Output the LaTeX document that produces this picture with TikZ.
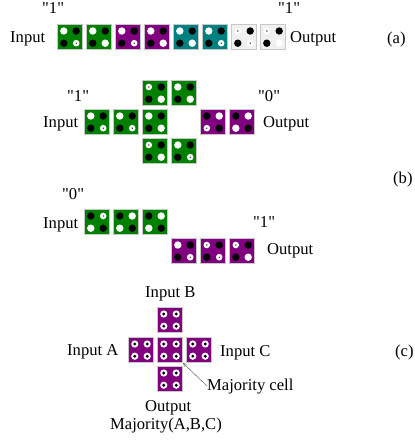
\documentclass[tikz,border=0pt]{standalone}
\usepackage{fontspec}
\newfontfamily\qfont{Liberation Serif}
\usetikzlibrary{arrows.meta}
\definecolor{qgreen}{RGB}{0,128,0}
\definecolor{qpurple}{RGB}{128,0,128}
\definecolor{qteal}{RGB}{0,128,128}
\definecolor{qgrey}{RGB}{240,240,240}
\definecolor{qedge}{RGB}{200,200,200}
\newcommand\dotB[1]{\fill[black] #1 circle[radius=3.7];}
\newcommand\dotW[1]{\fill[white] #1 circle[radius=3.7];}
\newcommand\dotw[1]{\fill[white] #1 circle[radius=3.3]; \fill[black] #1 circle[radius=0.7];}
\newcommand\dotu[1]{\fill[white] #1 circle[radius=3.6]; \fill[black] #1 circle[radius=1.6];}
% name, x, y (top-left), colour, TL, TR, BL, BR
\newcommand\qcell[8]{%
  \node[qcabox, fill=#4] (#1) at (#2+13,#3+13) {};
  \csname dot#5\endcsname{(#2+6.8,#3+7)}
  \csname dot#6\endcsname{(#2+19.2,#3+7)}
  \csname dot#7\endcsname{(#2+6.8,#3+19.2)}
  \csname dot#8\endcsname{(#2+19.2,#3+19.2)}
}
\begin{document}
\begin{tikzpicture}[x=1pt,y=-1pt,
  qcabox/.style={draw=qedge, line width=0.7pt, minimum size=25.5pt, inner sep=0pt},
  lbl/.style={anchor=base west, inner sep=0pt, font=\qfont\fontsize{16.6}{18}\selectfont}]
\useasboundingbox[fill=white] (0,0) rectangle (414,443);

% ---------- (a) ----------
\node[lbl] (a1q) at (42,14) {"1"};
\node[lbl] (ain) at (10,43) {Input};
\node[lbl] (a2q) at (278,14) {"1"};
\node[lbl] (aout) at (290,43) {Output};
\node[lbl] (alab) at (387,44) {(a)};
\qcell{a1}{57}{24}{qgreen}{W}{B}{B}{w}
\qcell{a2}{86}{24}{qgreen}{W}{B}{B}{W}
\qcell{a3}{115}{24}{qpurple}{W}{B}{B}{w}
\qcell{a4}{144}{24}{qpurple}{W}{B}{B}{W}
\qcell{a5}{173}{24}{qteal}{W}{B}{B}{W}
\qcell{a6}{202}{24}{qteal}{W}{B}{B}{w}
\qcell{a7}{231}{24}{qgrey}{w}{B}{B}{w}
\qcell{a8}{260}{24}{qgrey}{w}{B}{B}{W}

% ---------- (b) upper ----------
\node[lbl] (b1q) at (67,102) {"1"};
\node[lbl] (bin) at (43,128) {Input};
\node[lbl] (b0q) at (258,102) {"0"};
\node[lbl] (bout) at (263,128) {Output};
\node[lbl] (blab) at (393,184) {(b)};
\qcell{b1}{142}{80}{qgreen}{w}{B}{B}{W}
\qcell{b2}{171}{80}{qgreen}{W}{B}{B}{W}
\qcell{b3}{84}{109}{qgreen}{W}{B}{B}{w}
\qcell{b4}{113}{109}{qgreen}{W}{B}{B}{w}
\qcell{b5}{142}{109}{qgreen}{W}{B}{B}{W}
\qcell{b6}{200}{109}{qpurple}{B}{W}{w}{B}
\qcell{b7}{229}{109}{qpurple}{B}{W}{W}{B}
\qcell{b8}{142}{138}{qgreen}{w}{B}{B}{W}
\qcell{b9}{171}{138}{qgreen}{W}{B}{B}{w}

% ---------- (b) lower ----------
\node[lbl] (c0q) at (62,200) {"0"};
\node[lbl] (cin) at (43,228) {Input};
\node[lbl] (c1q) at (253,227) {"1"};
\node[lbl] (cout) at (267,254) {Output};
\qcell{c1}{84}{209}{qgreen}{B}{w}{W}{B}
\qcell{c2}{113}{209}{qgreen}{B}{W}{W}{B}
\qcell{c3}{142}{209}{qgreen}{B}{W}{W}{B}
\qcell{c4}{171}{238}{qpurple}{W}{B}{B}{w}
\qcell{c5}{200}{238}{qpurple}{w}{B}{B}{w}
\qcell{c6}{229}{238}{qpurple}{w}{B}{B}{W}

% ---------- (c) ----------
\node[lbl] (inB) at (145,297) {Input B};
\node[lbl] (inA) at (67,355) {Input A};
\node[lbl] (inC) at (220,356) {Input C};
\node[lbl] (mc) at (207,390) {Majority cell};
\node[lbl] (mout) at (145,411) {Output};
\node[lbl] (mfun) at (110,429) {Majority(A,B,C)};
\node[lbl] (clab) at (395,356) {(c)};
\qcell{mB}{157}{307}{qpurple}{u}{u}{u}{u}
\qcell{mA}{128}{337}{qpurple}{u}{u}{u}{u}
\qcell{mM}{157}{337}{qpurple}{u}{u}{u}{u}
\qcell{mC}{186}{337}{qpurple}{u}{u}{u}{u}
\qcell{mO}{157}{366}{qpurple}{u}{u}{u}{u}
\draw[-{Straight Barb[length=3pt,width=3pt]}, line width=0.4pt, black!70] (mc.west) -- (mM.south east);
\end{tikzpicture}
\end{document}
